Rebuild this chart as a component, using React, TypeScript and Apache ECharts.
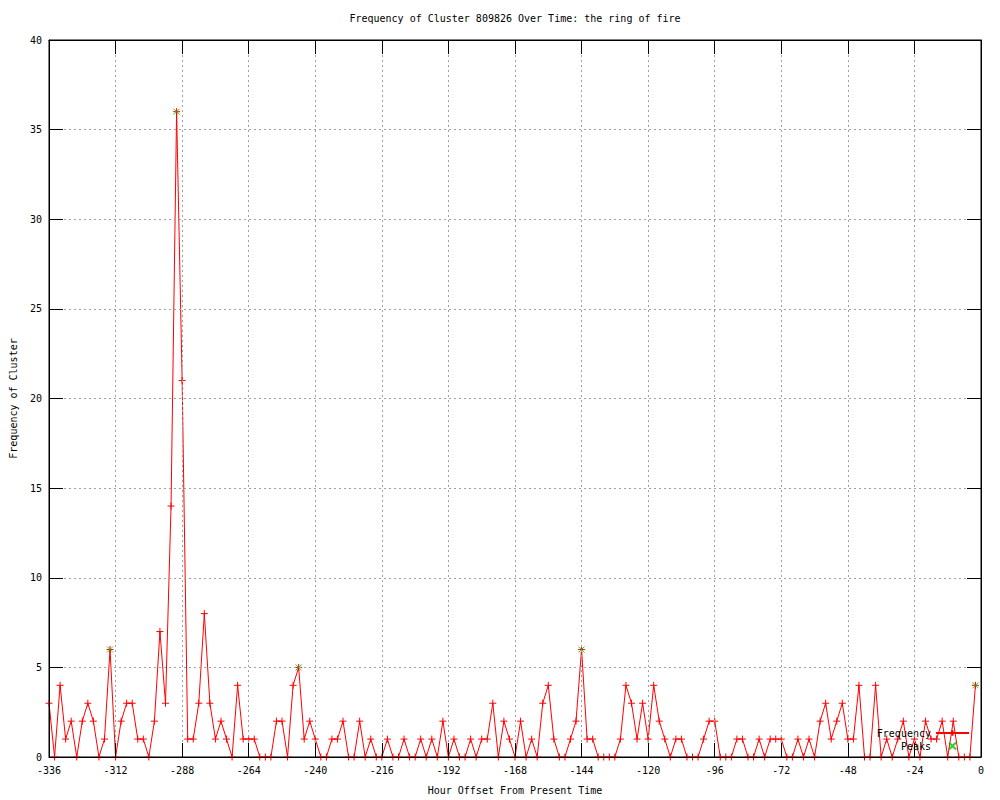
import React, { useEffect, useRef } from "react";
import * as echarts from "echarts";

const hours = [
  -336, -334, -332, -330, -328, -326, -324, -322, -320, -318, -316, -314,
  -312, -310, -308, -306, -304, -302, -300, -298, -296, -294, -292, -290,
  -288, -286, -284, -282, -280, -278, -276, -274, -272, -270, -268, -266,
  -264, -262, -260, -258, -256, -254, -252, -250, -248, -246, -244, -242,
  -240, -238, -236, -234, -232, -230, -228, -226, -224, -222, -220, -218,
  -216, -214, -212, -210, -208, -206, -204, -202, -200, -198, -196, -194,
  -192, -190, -188, -186, -184, -182, -180, -178, -176, -174, -172, -170,
  -168, -166, -164, -162, -160, -158, -156, -154, -152, -150, -148, -146,
  -144, -142, -140, -138, -136, -134, -132, -130, -128, -126, -124, -122,
  -120, -118, -116, -114, -112, -110, -108, -106, -104, -102, -100, -98,
  -96, -94, -92, -90, -88, -86, -84, -82, -80, -78, -76, -74,
  -72, -70, -68, -66, -64, -62, -60, -58, -56, -54, -52, -50,
  -48, -46, -44, -42, -40, -38, -36, -34, -32, -30, -28, -26,
  -24, -22, -20, -18, -16, -14, -12, -10, -8, -6, -4, -2,
];

const frequency = [
  3, 0, 4, 1, 2, 0, 2, 3, 2, 0, 1, 6,
  0, 2, 3, 3, 1, 1, 0, 2, 7, 3, 14, 36,
  21, 1, 1, 3, 8, 3, 1, 2, 1, 0, 4, 1,
  1, 1, 0, 0, 0, 2, 2, 0, 4, 5, 1, 2,
  1, 0, 0, 1, 1, 2, 0, 0, 2, 0, 1, 0,
  0, 1, 0, 0, 1, 0, 0, 1, 0, 1, 0, 2,
  0, 1, 0, 0, 1, 0, 1, 1, 3, 0, 2, 1,
  0, 2, 0, 1, 0, 3, 4, 1, 0, 0, 1, 2,
  6, 1, 1, 0, 0, 0, 0, 1, 4, 3, 1, 3,
  1, 4, 2, 1, 0, 1, 1, 0, 0, 0, 1, 2,
  2, 0, 0, 0, 1, 1, 0, 0, 1, 0, 1, 1,
  1, 0, 0, 1, 0, 1, 0, 2, 3, 1, 2, 3,
  1, 1, 4, 0, 0, 4, 0, 1, 0, 1, 2, 0,
  1, 0, 2, 1, 1, 2, 0, 2, 0, 0, 0, 4,
];

const peakHours = [-314, -290, -246, -144, -2];
const peakValues = [6, 36, 5, 6, 4];

const TITLE = "Frequency of Cluster 809826 Over Time: the ring of fire";
const X_NAME = "Hour Offset From Present Time";
const Y_NAME = "Frequency of Cluster";

const FONT = "DejaVu Sans Mono";
const PLUS = "path://M0,5L10,5M5,0L5,10";
const CROSS = "path://M0,0L10,10M10,0L0,10";

export default function App() {
  const ref = useRef<HTMLDivElement>(null);

  useEffect(() => {
    if (!ref.current) return;
    const chart = echarts.init(ref.current, null, { renderer: "svg" });
    const textStyle = { fontFamily: FONT, fontSize: 10, color: "#000" };
    const gridLine = {
      show: true,
      lineStyle: { color: "#a0a0a0", type: [2, 3] as any, width: 1 },
    };
    const tickInside = {
      show: true,
      inside: true,
      length: 14,
      lineStyle: { color: "#000", width: 1 },
    };
    const axisLine = {
      show: true,
      onZero: false,
      lineStyle: { color: "#000", width: 1 },
    };

    chart.setOption({
      animation: false,
      backgroundColor: "#fff",
      textStyle: { fontFamily: FONT },
      graphic: [
        {
          type: "text",
          x: 515,
          y: 18,
          style: {
            text: TITLE,
            font: `10px "${FONT}"`,
            fill: "#000",
            textAlign: "center",
            textVerticalAlign: "middle",
          },
        },
      ],
      grid: {
        left: 49,
        top: 40,
        width: 932,
        height: 720,
        show: true,
        borderColor: "#000",
        borderWidth: 1,
        backgroundColor: "transparent",
      },
      legend: {
        right: 30,
        top: 727,
        orient: "vertical",
        align: "right",
        itemWidth: 33,
        itemHeight: 7,
        itemGap: 1,
        padding: 0,
        textStyle: { ...textStyle, padding: [0, 0, 0, 0], lineHeight: 12 },
        data: ["Frequency", "Peaks"],
      },
      xAxis: [
        {
          type: "value",
          min: -336,
          max: 0,
          interval: 24,
          position: "bottom",
          z: 5,
          name: X_NAME,
          nameLocation: "middle",
          nameGap: 28,
          nameTextStyle: textStyle,
          axisLine,
          axisTick: tickInside,
          axisLabel: { ...textStyle, margin: 8 },
          splitLine: gridLine,
        },
        {
          type: "value",
          min: -336,
          max: 0,
          interval: 24,
          position: "top",
          z: 5,
          axisLine,
          axisTick: tickInside,
          axisLabel: { show: false },
          splitLine: { show: false },
        },
      ],
      yAxis: [
        {
          type: "value",
          min: 0,
          max: 40,
          interval: 5,
          position: "left",
          z: 5,
          name: Y_NAME,
          nameLocation: "middle",
          nameGap: 31,
          nameTextStyle: textStyle,
          axisLine,
          axisTick: tickInside,
          axisLabel: { ...textStyle, margin: 7 },
          splitLine: gridLine,
        },
        {
          type: "value",
          min: 0,
          max: 40,
          interval: 5,
          position: "right",
          z: 5,
          axisLine,
          axisTick: tickInside,
          axisLabel: { show: false },
          splitLine: { show: false },
        },
      ],
      series: [
        {
          name: "Frequency",
          type: "line",
          data: hours.map((h, i) => [h, frequency[i]]),
          symbol: PLUS,
          symbolSize: 7,
          showSymbol: true,
          showAllSymbol: true,
          lineStyle: { color: "#ff0000", width: 1 },
          itemStyle: { color: "#ff0000", borderColor: "#ff0000", borderWidth: 1 },
          z: 2,
        },
        {
          name: "Peaks",
          type: "scatter",
          data: peakHours.map((h, i) => [h, peakValues[i]]),
          symbol: CROSS,
          symbolSize: 6,
          itemStyle: { color: "#00c000", borderColor: "#00c000", borderWidth: 1 },
          z: 3,
        },
      ],
    });
    return () => chart.dispose();
  }, []);

  return (
    <div
      ref={ref}
      style={{ position: "fixed", left: 0, top: 0, width: 1000, height: 800 }}
    />
  );
}
